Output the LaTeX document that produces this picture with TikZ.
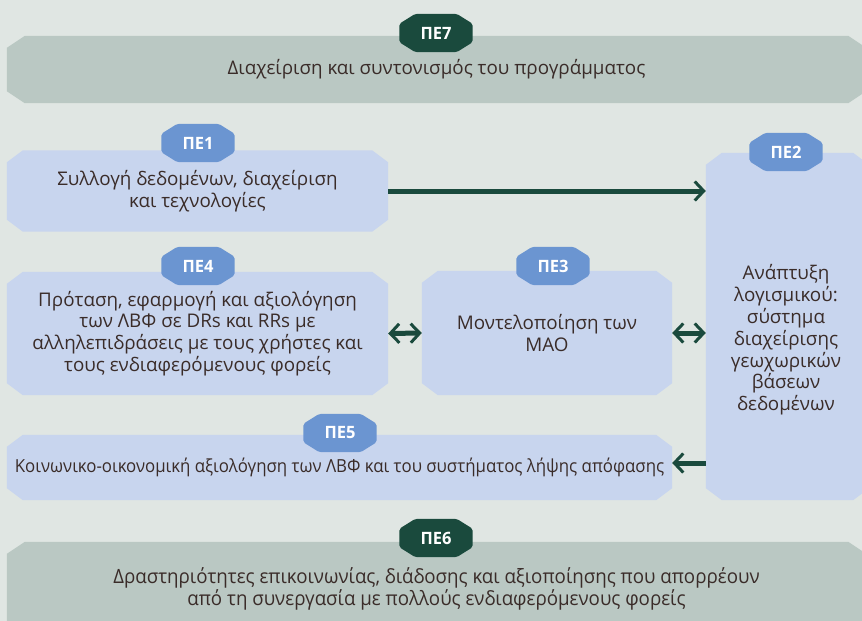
\documentclass[tikz,border=0pt]{standalone}
\usepackage{fontspec}
\setmainfont{Open Sans}
\newfontfamily\condfont{Open Sans}[FakeStretch=0.935]
\newfontfamily\condfontb{Open Sans}[FakeStretch=0.95]
\newfontfamily\badgefont{Open Sans}[FakeStretch=0.97]
\usetikzlibrary{arrows.meta,calc}
\definecolor{bgc}{HTML}{E0E6E3}
\definecolor{greybox}{HTML}{BAC8C3}
\definecolor{bluebox}{HTML}{C8D5EE}
\definecolor{badgeblue}{HTML}{6B95D1}
\definecolor{dkgreen}{HTML}{1A4A3D}
\definecolor{txtc}{HTML}{3A2C29}
\pgfdeclarelayer{bg}
\pgfdeclarelayer{mid}
\pgfsetlayers{bg,mid,main}
\newcommand\chamfill[4]{%
  \fill[#2] ([xshift=#3]#1.north west) -- ([xshift=-#3]#1.north east) --
  ([yshift=-#4]#1.north east) -- ([yshift=#4]#1.south east) --
  ([xshift=-#3]#1.south east) -- ([xshift=#3]#1.south west) --
  ([yshift=#4]#1.south west) -- ([yshift=-#4]#1.north west) -- cycle;}
\tikzset{
  box/.style={rectangle, inner sep=0pt, align=center, text=txtc,
    font=\fontsize{18.8}{21.8}\selectfont},
  condbox/.style={box, font=\condfont\fontsize{18}{21.7}\selectfont},
  condboxb/.style={box, font=\condfontb\fontsize{19.7}{22}\selectfont},
  badge/.style={rectangle, inner sep=0pt, minimum width=73pt, minimum height=38pt,
    text=white, font=\badgefont\bfseries\fontsize{17}{19}\selectfont},
  arr/.style={draw=dkgreen, line width=5pt,
    -{Straight Barb[length=9pt,width=19pt,line width=3pt]}},
  dblarr/.style={draw=dkgreen, line width=5pt,
    {Straight Barb[length=9pt,width=19pt,line width=3pt]}-{Straight Barb[length=9pt,width=19pt,line width=3pt]}}
}
\begin{document}
\begin{tikzpicture}[x=1pt,y=-1pt]
\useasboundingbox (0,0) rectangle (862,621);
\begin{pgfonlayer}{bg}
  \fill[bgc] (0,0) rectangle (862,621);
\end{pgfonlayer}
% boxes
\node[box, minimum width=859pt, minimum height=67pt] (pe7) at (436.5,69.5)
  {Διαχείριση και συντονισμός του προγράμματος};
\node[box, minimum width=381pt, minimum height=81pt] (pe1) at (197.5,191)
  {Συλλογή δεδομένων, διαχείριση\\και τεχνολογίες};
\node[box, minimum width=163pt, minimum height=347pt] (pe2) at (787.5,326.5) {};
\node[box] (pe2t) at (786,340)
  {Ανάπτυξη\\λογισμικού:\\σύστημα\\διαχείρισης\\γεωχωρικών\\βάσεων\\δεδομένων};
\node[box, minimum width=381pt, minimum height=123pt] (pe4) at (197.5,333.5)
  {Πρόταση, εφαρμογή και αξιολόγηση\\των ΛΒΦ σε DRs και RRs με\\αλληλεπιδράσεις με τους χρήστες και\\τους ενδιαφερόμενους φορείς};
\node[box, minimum width=250pt, minimum height=124pt] (pe3) at (547,333)
  {Μοντελοποίηση των\\ΜΑΟ};
\node[condbox, minimum width=665pt, minimum height=65pt] (pe5) at (339.5,467.5)
  {Κοινωνικο-οικονομική αξιολόγηση των ΛΒΦ και του συστήματος λήψης απόφασης};
\node[condboxb, minimum width=859pt, minimum height=94pt] (pe6) at (436.5,589)
  {Δραστηριότητες επικοινωνίας, διάδοσης και αξιοποίησης που απορρέουν\\από τη συνεργασία με πολλούς ενδιαφερόμενους φορείς};
\begin{pgfonlayer}{bg}
  \chamfill{pe7}{greybox}{18}{12}
  \chamfill{pe6}{greybox}{18}{12}
  \chamfill{pe1}{bluebox}{16}{12}
  \chamfill{pe2}{bluebox}{16}{12}
  \chamfill{pe4}{bluebox}{16}{12}
  \chamfill{pe3}{bluebox}{16}{12}
  \chamfill{pe5}{bluebox}{16}{12}
\end{pgfonlayer}
% badges
\node[badge] (b7) at (436,33) {ΠΕ7};
\node[badge] (b1) at (198,143) {ΠΕ1};
\node[badge] (b2) at (786,152) {ΠΕ2};
\node[badge] (b4) at (198,266) {ΠΕ4};
\node[badge] (b3) at (553,266) {ΠΕ3};
\node[badge] (b5) at (340,433) {ΠΕ5};
\node[badge] (b6) at (436,538) {ΠΕ6};
\begin{pgfonlayer}{mid}
  \chamfill{b7}{dkgreen,rounded corners=2pt}{16}{10}
  \chamfill{b6}{dkgreen,rounded corners=2pt}{16}{10}
  \chamfill{b1}{badgeblue,rounded corners=2pt}{16}{10}
  \chamfill{b2}{badgeblue,rounded corners=2pt}{16}{10}
  \chamfill{b4}{badgeblue,rounded corners=2pt}{16}{10}
  \chamfill{b3}{badgeblue,rounded corners=2pt}{16}{10}
  \chamfill{b5}{badgeblue,rounded corners=2pt}{16}{10}
\end{pgfonlayer}
% connectors
\draw[arr] (pe1.east) -- (pe1.east -| pe2.west);
\draw[dblarr] (pe4.east) -- (pe3.west);
\draw[dblarr] (pe3.east) -- (pe3.east -| pe2.west);
\coordinate (a5) at ($(pe5.east)+(0,-4.5)$);
\draw[arr] (a5 -| pe2.west) -- (a5);
\end{tikzpicture}
\end{document}
